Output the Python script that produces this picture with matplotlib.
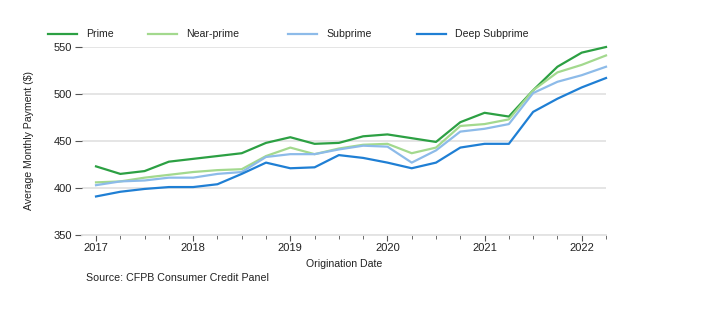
import matplotlib.pyplot as plt
from matplotlib.lines import Line2D
import numpy as np

plt.rcParams['font.family'] = ['Liberation Sans', 'DejaVu Sans']

# quarterly origination dates, 2017Q1 .. 2022Q2
years = [2017, 2018, 2019, 2020, 2021, 2022]
quarters = np.arange(2017, 2022.26, 0.25)

prime = [423, 415, 418, 428, 431, 434, 437, 448, 454, 447, 448, 455,
         457, 453, 449, 470, 480, 476, 504, 529, 544, 550]
near_prime = [406, 407, 411, 414, 417, 419, 420, 434, 443, 436, 442, 446,
              447, 437, 443, 466, 468, 473, 504, 523, 531, 541]
subprime = [403, 407, 408, 411, 411, 415, 417, 433, 436, 436, 441, 445,
            444, 427, 440, 460, 463, 468, 501, 513, 520, 529]
deep_subprime = [391, 396, 399, 401, 401, 404, 415, 427, 421, 422, 435, 432,
                 427, 421, 427, 443, 447, 447, 481, 495, 507, 517]

names = ['Prime', 'Near-prime', 'Subprime', 'Deep Subprime']
colors = ['#2ca043', '#a3d98e', '#8dbbe9', '#1f7fd4']
series = [prime, near_prime, subprime, deep_subprime]

fig = plt.figure(figsize=(7.14, 3.22), dpi=100)
ax = fig.add_axes([82 / 714, 87 / 322, 524 / 714, 188 / 322])

for vals, c in zip(series, colors):
    ax.plot(quarters, vals, color=c, lw=1.6, clip_on=False, zorder=3)

ax.set_ylim(350, 550)
ax.set_xlim(2017 - 14 / 97, 2022.25)
ax.set_yticks([350, 400, 450, 500, 550])
ax.set_xticks(years)
ax.set_xticks(quarters, minor=True)
ax.grid(axis='y', color='#e3e3e3', lw=1.3, zorder=0)
for s in ['top', 'right', 'left']:
    ax.spines[s].set_visible(False)
ax.spines['bottom'].set_color('#e3e3e3')
ax.spines['bottom'].set_linewidth(1.3)
ax.tick_params(axis='y', length=5, color='#555555', labelsize=8, pad=2,
               labelcolor='#222222')
ax.tick_params(axis='x', which='both', length=4, color='#555555', labelsize=8,
               labelcolor='#222222', pad=2)
ax.tick_params(axis='x', which='minor', length=3)

ax.set_ylabel('Average Monthly Payment ($)', fontsize=7.6, color='#222222',
              labelpad=14)
ax.set_xlabel('Origination Date', fontsize=7.6, color='#222222', labelpad=4)

fig.text(86 / 714, 1 - 278 / 322, 'Source: CFPB Consumer Credit Panel',
         fontsize=7.7, color='#222222', va='center')

# legend row along the top
leg_x = [48, 148, 288, 417]
for x0, name, c in zip(leg_x, names, colors):
    fig.add_artist(Line2D([x0 / 714, (x0 + 29) / 714], [1 - 34 / 322] * 2,
                          color=c, lw=1.6))
    fig.text((x0 + 38) / 714, 1 - 34 / 322, name, fontsize=7.6,
             color='#222222', va='center')

fig.savefig('out.png', dpi=100)
